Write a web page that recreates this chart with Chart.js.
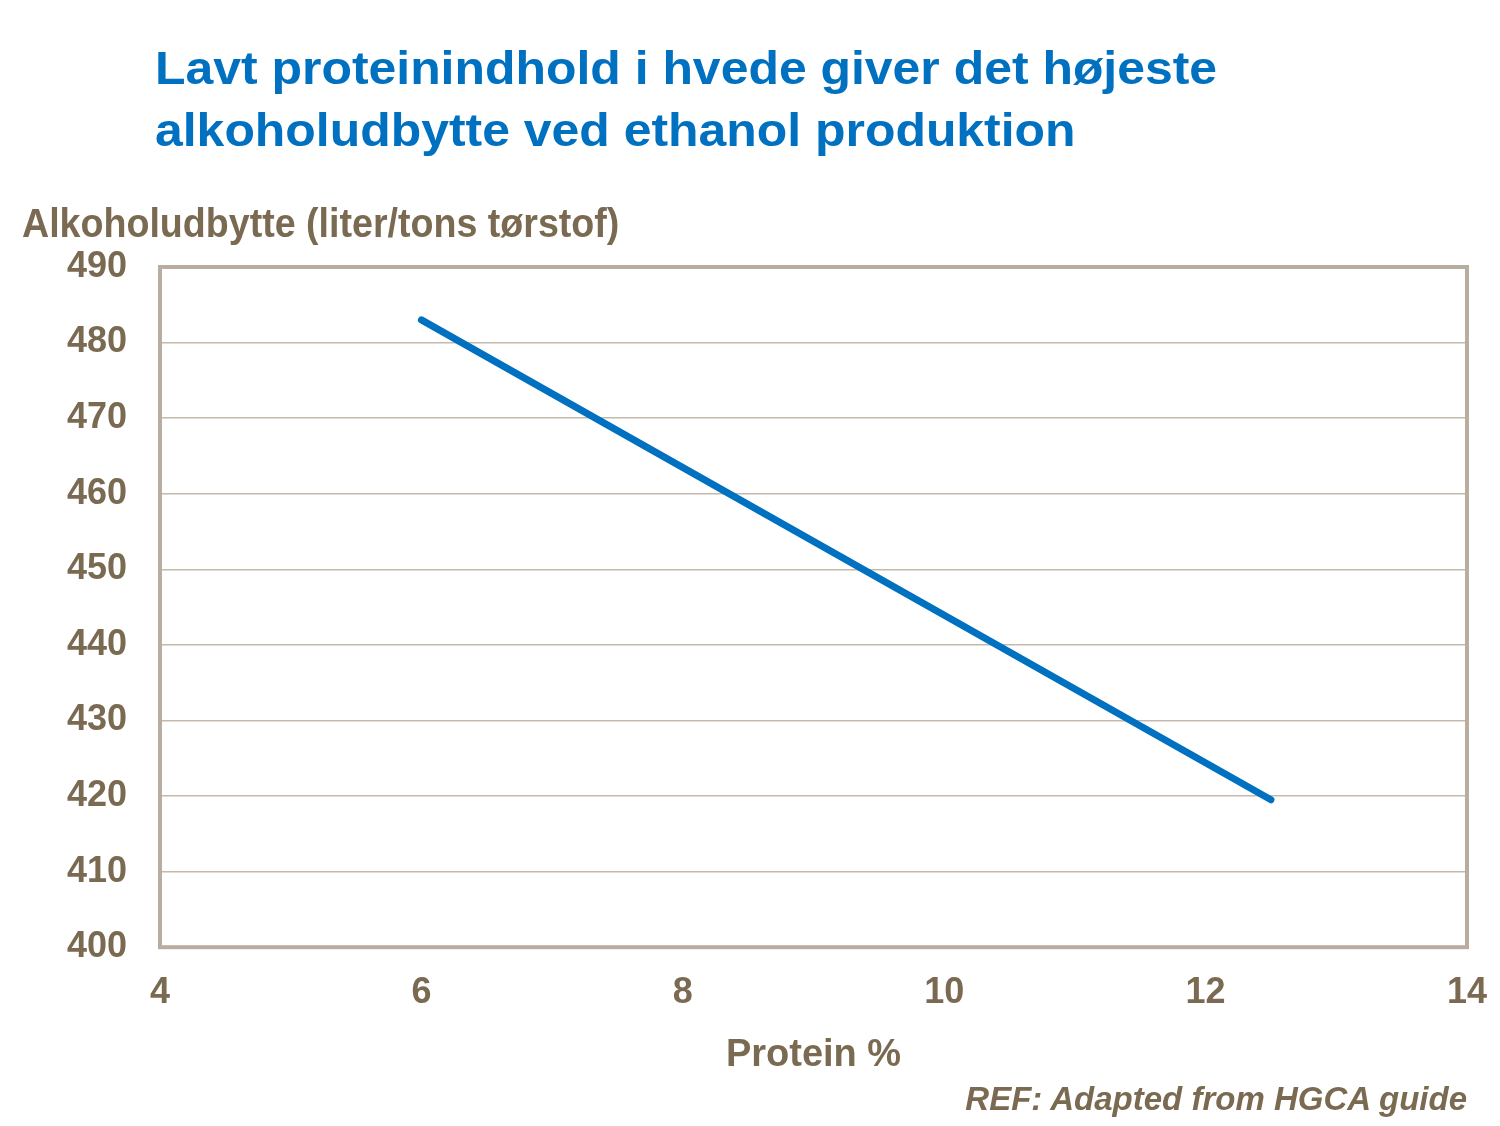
<!DOCTYPE html>
<html>
<head>
<meta charset="utf-8">
<script src="https://cdn.jsdelivr.net/npm/chart.js@4.4.0/dist/chart.umd.min.js"></script>
<style>
  body { margin: 0; background: #fff; font-family: "Liberation Sans", Arial, sans-serif; }
  #wrap { position: relative; width: 1500px; height: 1126px; }
  #chart { position: absolute; left: 0; top: 0; }
  .title { position: absolute; left: 155px; top: 37px; font-size: 46px; line-height: 62px; font-weight: bold; color: #0070c0; white-space: nowrap; transform: scaleX(1.085); transform-origin: left top; }
  .ytitle { position: absolute; left: 22px; top: 203px; font-size: 40px; line-height: 40px; font-weight: bold; color: #7b6a52; white-space: nowrap; transform: scaleX(0.94); transform-origin: left top; }
  .ref { position: absolute; right: 33px; top: 1082px; font-size: 33px; line-height: 33px; font-weight: bold; font-style: italic; color: #7b6a52; }
</style>
</head>
<body>
<div id="wrap">
  <canvas id="chart" width="1500" height="1126"></canvas>
  <div class="title">Lavt proteinindhold i hvede giver det højeste<br>alkoholudbytte ved ethanol produktion</div>
  <div class="ytitle">Alkoholudbytte (liter/tons tørstof)</div>
  <div class="ref">REF: Adapted from HGCA guide</div>
</div>
<script>
const proteinPct = [6, 12.5];
const alcoholYield = [483, 419.5];
const xRange = [4, 14];
const yRange = [400, 490];

const brown = "#7b6a52";
const frame = "#b9ad9f";

// frame around the plot area
const plotFrame = {
  id: "plotFrame",
  afterDraw(chart) {
    const { ctx, chartArea: a } = chart;
    ctx.save();
    ctx.strokeStyle = frame;
    ctx.lineWidth = 4;
    ctx.strokeRect(a.left, a.top, a.right - a.left, a.bottom - a.top);
    ctx.restore();
  },
};

const ctx = document.querySelector("#chart").getContext("2d");

new Chart(ctx, {
  type: "line",
  data: {
    datasets: [
      {
        label: "Alkoholudbytte",
        data: proteinPct.map((x, i) => ({ x: x, y: alcoholYield[i] })),
        borderColor: "#0070c0",
        borderWidth: 7,
        borderCapStyle: "round",
        pointRadius: 0,
        tension: 0,
      },
    ],
  },
  options: {
    responsive: false,
    animation: false,
    layout: { padding: { top: 267, right: 33, bottom: 48, left: 0 } },
    plugins: { legend: { display: false }, tooltip: { enabled: false } },
    scales: {
      x: {
        type: "linear",
        min: xRange[0],
        max: xRange[1],
        // let the last label hang over the right edge of the plot
        afterFit(scale) {
          scale.paddingRight = 0;
        },
        ticks: {
          stepSize: 2,
          padding: 24,
          color: brown,
          font: { family: "Liberation Sans, Arial", size: 36, weight: "bold" },
        },
        grid: { display: false, drawTicks: false },
        border: { display: false },
        title: {
          display: true,
          text: "Protein %",
          color: brown,
          padding: { top: -6, bottom: 0 },
          font: { family: "Liberation Sans, Arial", size: 38, weight: "bold" },
        },
      },
      y: {
        min: yRange[0],
        max: yRange[1],
        afterFit(scale) {
          scale.width = 160;
        },
        ticks: {
          stepSize: 10,
          padding: 33,
          color: brown,
          font: { family: "Liberation Sans, Arial", size: 36, weight: "bold" },
        },
        grid: { color: "#c4b9ac", lineWidth: 1.5, drawTicks: false },
        border: { display: false },
      },
    },
  },
  plugins: [plotFrame],
});
</script>
</body>
</html>
